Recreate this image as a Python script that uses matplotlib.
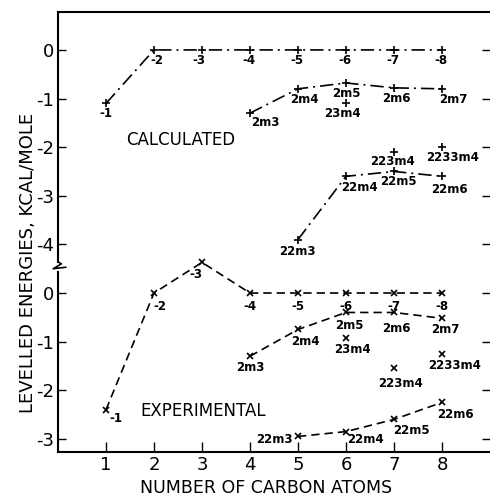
import matplotlib
matplotlib.use("Agg")
import matplotlib.pyplot as plt

# carbon atom counts
carbons = [1, 2, 3, 4, 5, 6, 7, 8]
n_labels = ["-1", "-2", "-3", "-4", "-5", "-6", "-7", "-8"]

# calculated levelled energies (upper part)
calc_n = [-1.1, 0, 0, 0, 0, 0, 0, 0]
calc_2m_x = [4, 5, 6, 7, 8]
calc_2m = [-1.3, -0.8, -0.68, -0.78, -0.8]
calc_2m_labels = ["2m3", "2m4", "2m5", "2m6", "2m7"]
calc_22_x = [5, 6, 7, 8]
calc_22 = [-3.9, -2.6, -2.5, -2.6]
calc_22_labels = ["22m3", "22m4", "22m5", "22m6"]
calc_single_x = [6, 7, 8]
calc_single = [-1.1, -2.1, -2.0]
calc_single_labels = ["23m4", "223m4", "2233m4"]

# experimental levelled energies (lower part)
exp_n = [-2.4, 0, 0.63, 0, 0, 0, 0, 0]
exp_2m_x = [4, 5, 6, 7, 8]
exp_2m = [-1.3, -0.75, -0.4, -0.4, -0.52]
exp_2m_labels = ["2m3", "2m4", "2m5", "2m6", "2m7"]
exp_22_x = [5, 6, 7, 8]
exp_22 = [-2.95, -2.85, -2.6, -2.25]
exp_22_labels = ["22m3", "22m4", "22m5", "22m6"]
exp_single_x = [6, 7, 8]
exp_single = [-0.92, -1.55, -1.25]
exp_single_labels = ["23m4", "223m4", "2233m4"]

# the two parts share one axis, the lower one is shifted down
shift = -5
upper_ticks = [0, -1, -2, -3, -4]
lower_ticks = [0, -1, -2, -3]

# label offsets in pixels (right, down)
calc_n_off = [(0, 10), (3, 11), (-3, 11), (-1, 11), (-1, 11), (-1, 11), (-1, 11), (-1, 11)]
calc_2m_off = [(15, 9), (6, 11), (0, 11), (2, 11), (11, 11)]
calc_22_off = [(-1, 12), (13, 11), (4, 10), (7, 13)]
calc_single_off = [(-4, 10), (-2, 9), (11, 10)]
exp_n_off = [(10, 9), (6, 13), (-6, 12), (0, 13), (0, 13), (0, 13), (0, 13), (0, 13)]
exp_2m_off = [(0, 11), (7, 12), (3, 13), (2, 16), (3, 11)]
exp_22_off = [(-24, 3), (19, 8), (17, 11), (13, 12)]
exp_single_off = [(6, 12), (6, 15), (13, 12)]

fig = plt.figure(figsize=(4.9, 4.97), dpi=100)
ax = fig.add_axes([58 / 490, 1 - 452 / 497, 1 - 58 / 490, 440 / 497])

calc_style = dict(color="black", lw=1.2, ls=(0, (8, 3, 1.2, 3)), marker="+", ms=6, mew=1.2)
exp_style = dict(color="black", lw=1.2, ls=(0, (5, 3)), marker="x", ms=4.5, mew=1.2)
lab_style = dict(textcoords="offset points", ha="center", va="center",
                 fontsize=8.5, fontweight="bold")


def put_labels(xs, ys, labels, offs, dy=0):
    for x, y, t, (ox, oy) in zip(xs, ys, labels, offs):
        ax.annotate(t, (x, y + dy), xytext=(ox * 0.72, -oy * 0.72), **lab_style)


# calculated
ax.plot(carbons, calc_n, **calc_style)
ax.plot(calc_2m_x, calc_2m, **calc_style)
ax.plot(calc_22_x, calc_22, **calc_style)
ax.plot(calc_single_x, calc_single, ls="none", marker="+", ms=6, mew=1.2, color="black")
put_labels(carbons, calc_n, n_labels, calc_n_off)
put_labels(calc_2m_x, calc_2m, calc_2m_labels, calc_2m_off)
put_labels(calc_22_x, calc_22, calc_22_labels, calc_22_off)
put_labels(calc_single_x, calc_single, calc_single_labels, calc_single_off)

# experimental
ax.plot(carbons, [v + shift for v in exp_n], **exp_style)
ax.plot(exp_2m_x, [v + shift for v in exp_2m], **exp_style)
ax.plot(exp_22_x, [v + shift for v in exp_22], **exp_style)
ax.plot(exp_single_x, [v + shift for v in exp_single], ls="none", marker="x", ms=4.5,
        mew=1.2, color="black")
put_labels(carbons, exp_n, n_labels, exp_n_off, shift)
put_labels(exp_2m_x, exp_2m, exp_2m_labels, exp_2m_off, shift)
put_labels(exp_22_x, exp_22, exp_22_labels, exp_22_off, shift)
put_labels(exp_single_x, exp_single, exp_single_labels, exp_single_off, shift)

ax.text(2.56, -1.85, "CALCULATED", fontsize=12, ha="center", va="center")
ax.text(3.02, -7.43, "EXPERIMENTAL", fontsize=12, ha="center", va="center")

ax.set_xlim(0, 9)
ax.set_ylim(-8.27, 0.78)
ax.set_xticks(carbons)
ax.set_xticklabels([str(c) for c in carbons])
ax.set_yticks(upper_ticks + [t + shift for t in lower_ticks])
ax.set_yticklabels([str(t) for t in upper_ticks] + [str(t) for t in lower_ticks])
ax.tick_params(axis="x", direction="in", length=7, width=1, labelsize=13, pad=3)
ax.tick_params(axis="y", direction="in", length=6, width=1, labelsize=13, pad=3,
               right=True)
ax.tick_params(axis="y", which="major", right=True)
for s in ["top", "bottom"]:
    ax.spines[s].set_linewidth(1.5)
ax.spines["right"].set_visible(False)

# left spine drawn by hand with the break zigzag
ax.spines["left"].set_visible(False)
ax.plot([0, 0], [0.78, -4.36], color="black", lw=1.5, clip_on=False)
ax.plot([0, 0.07, -0.1, 0.16], [-4.36, -4.40, -4.50, -4.47], color="black", lw=1.2,
        clip_on=False)
ax.plot([0, 0], [-4.56, -8.27], color="black", lw=1.5, clip_on=False)

fig.text(266 / 490, 1 - 488 / 497, "NUMBER OF CARBON ATOMS", fontsize=12.5,
         ha="center", va="center")
fig.text(28 / 490, 1 - 263 / 497, "LEVELLED ENERGIES, KCAL/MOLE", fontsize=13,
         ha="center", va="center", rotation=90)

fig.savefig("out.png", dpi=100)
